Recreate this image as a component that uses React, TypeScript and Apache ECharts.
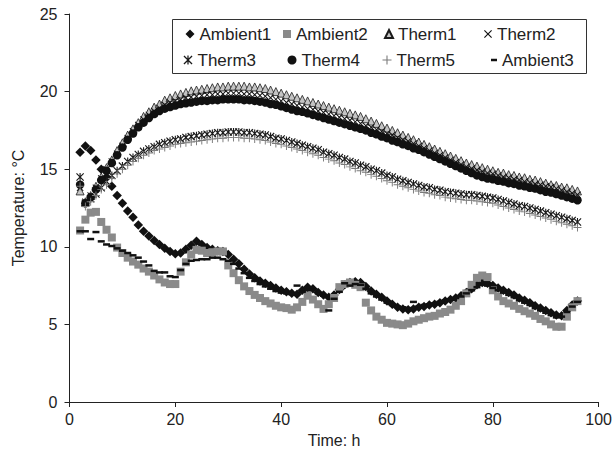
import React, { useEffect, useRef } from "react";
import * as echarts from "echarts";

const hours = [
  2, 3, 4, 5, 6, 7, 8, 9, 10, 11,
  12, 13, 14, 15, 16, 17, 18, 19, 20, 21,
  22, 23, 24, 25, 26, 27, 28, 29, 30, 31,
  32, 33, 34, 35, 36, 37, 38, 39, 40, 41,
  42, 43, 44, 45, 46, 47, 48, 49, 50, 51,
  52, 53, 54, 55, 56, 57, 58, 59, 60, 61,
  62, 63, 64, 65, 66, 67, 68, 69, 70, 71,
  72, 73, 74, 75, 76, 77, 78, 79, 80, 81,
  82, 83, 84, 85, 86, 87, 88, 89, 90, 91,
  92, 93, 94, 95, 96,
];

const ambient1 = [
  16.1, 16.5, 16.2, 15.6, 15.0, 14.5, 13.9, 13.3, 12.8, 12.3,
  11.9, 11.4, 11.0, 10.7, 10.4, 10.15, 9.9, 9.7, 9.55, 9.6,
  9.85, 10.1, 10.35, 10.15, 9.95, 9.85, 9.75, 9.7, 9.5, 9.2,
  8.9, 8.55, 8.25, 8.0, 7.8, 7.65, 7.5, 7.35, 7.2, 7.1,
  7.0, 6.95, 7.2, 7.4, 7.3, 7.05, 6.9, 6.75, 6.9, 7.25,
  7.55, 7.7, 7.75, 7.7, 7.45, 7.15, 6.95, 6.75, 6.5, 6.3,
  6.1, 6.0, 5.95, 6.0, 6.1, 6.15, 6.25, 6.3, 6.4, 6.5,
  6.6, 6.7, 6.85, 7.05, 7.3, 7.55, 7.7, 7.65, 7.5, 7.35,
  7.2, 7.05, 6.9, 6.7, 6.55, 6.4, 6.2, 6.05, 5.9, 5.75,
  5.6, 5.55, 5.9, 6.25, 6.5,
];

const ambient2 = [
  11.05, 11.75, 12.2, 12.25, 11.6, 11.1, 10.6, 9.95, 9.6, 9.3,
  9.05, 8.85, 8.6, 8.4, 8.15, 7.9, 7.7, 7.6, 7.6, 8.4,
  9.0, 9.5, 9.8, 9.75, 9.6, 9.65, 9.7, 9.7, 8.8, 8.3,
  7.85, 7.45, 7.15, 6.9, 6.7, 6.5, 6.35, 6.2, 6.1, 6.05,
  5.95, 6.1, 6.45, 6.85, 6.6, 6.3, 6.0, 6.3, 6.7, 7.4,
  7.6, 7.7, 7.55, 7.4, 6.4, 5.9, 5.5, 5.3, 5.1, 5.05,
  5.0, 4.95, 5.05, 5.2, 5.3, 5.4, 5.5, 5.55, 5.7, 5.8,
  5.95, 6.2, 6.5, 7.0, 7.55, 8.0, 8.15, 8.05, 7.2, 6.8,
  6.5, 6.35, 6.2, 6.0, 5.85, 5.7, 5.55, 5.35, 5.2, 5.0,
  4.85, 4.85, 5.5, 6.1, 6.5,
];

const therm1 = [
  13.6, 12.9, 13.3, 13.9, 14.5, 15.1, 15.6, 16.2, 16.7, 17.2,
  17.6, 18.0, 18.4, 18.7, 19.0, 19.2, 19.45, 19.6, 19.75, 19.85,
  19.95, 20.05, 20.1, 20.15, 20.2, 20.25, 20.3, 20.3, 20.35, 20.35,
  20.35, 20.35, 20.3, 20.3, 20.25, 20.2, 20.1, 20.0, 19.9, 19.8,
  19.7, 19.6, 19.5, 19.4, 19.3, 19.2, 19.1, 19.0, 18.9, 18.8,
  18.7, 18.6, 18.5, 18.4, 18.25, 18.1, 17.95, 17.8, 17.65, 17.5,
  17.35, 17.2, 17.05, 16.9, 16.75, 16.6, 16.45, 16.3, 16.15, 16.0,
  15.85, 15.7, 15.55, 15.4, 15.3, 15.2, 15.1, 15.0, 14.9, 14.8,
  14.75, 14.65, 14.6, 14.5, 14.45, 14.35, 14.3, 14.2, 14.1, 14.0,
  13.95, 13.85, 13.8, 13.7, 13.6,
];

const therm2 = [
  13.8, 12.9, 13.3, 13.8, 14.4, 15.0, 15.5, 16.0, 16.5, 17.0,
  17.45, 17.85, 18.2, 18.5, 18.75, 18.95, 19.15, 19.3, 19.4, 19.5,
  19.6, 19.65, 19.7, 19.75, 19.8, 19.8, 19.85, 19.85, 19.9, 19.9,
  19.9, 19.85, 19.85, 19.8, 19.75, 19.7, 19.6, 19.5, 19.4, 19.3,
  19.2, 19.1, 19.0, 18.9, 18.85, 18.75, 18.65, 18.55, 18.45, 18.35,
  18.25, 18.15, 18.05, 17.95, 17.8, 17.7, 17.55, 17.45, 17.3, 17.2,
  17.05, 16.9, 16.8, 16.65, 16.5, 16.35, 16.2, 16.05, 15.9, 15.75,
  15.6, 15.45, 15.3, 15.15, 15.05, 14.95, 14.85, 14.75, 14.7, 14.6,
  14.5, 14.45, 14.35, 14.3, 14.2, 14.15, 14.05, 14.0, 13.9, 13.85,
  13.75, 13.65, 13.55, 13.45, 13.35,
];

const therm3 = [
  14.5, 12.8, 13.1, 13.4, 13.8, 14.2, 14.6, 14.9, 15.2, 15.5,
  15.75, 15.95, 16.15, 16.3, 16.45, 16.6, 16.7, 16.8, 16.9, 16.95,
  17.05, 17.1, 17.15, 17.2, 17.25, 17.3, 17.35, 17.35, 17.4, 17.4,
  17.4, 17.35, 17.35, 17.3, 17.25, 17.2, 17.1, 17.0, 16.95, 16.85,
  16.75, 16.65, 16.55, 16.45, 16.35, 16.25, 16.1, 16.0, 15.9, 15.75,
  15.65, 15.5, 15.4, 15.25, 15.15, 15.0, 14.9, 14.75, 14.6, 14.5,
  14.35, 14.25, 14.15, 14.05, 13.95, 13.85, 13.8, 13.7, 13.65, 13.55,
  13.5, 13.45, 13.4, 13.35, 13.35, 13.3, 13.25, 13.2, 13.15, 13.05,
  12.95, 12.85, 12.75, 12.65, 12.6, 12.5, 12.4, 12.3, 12.2, 12.1,
  12.0, 11.9, 11.8, 11.7, 11.6,
];

const therm4 = [
  14.0, 12.8, 13.2, 13.7, 14.3, 14.9, 15.4, 15.9, 16.4, 16.9,
  17.3, 17.7, 18.0, 18.3, 18.55, 18.75, 18.9, 19.0, 19.1, 19.2,
  19.25, 19.3, 19.35, 19.4, 19.4, 19.45, 19.45, 19.5, 19.5, 19.5,
  19.5, 19.45, 19.45, 19.4, 19.35, 19.3, 19.2, 19.15, 19.05, 18.95,
  18.85, 18.75, 18.7, 18.6, 18.5, 18.4, 18.3, 18.2, 18.1, 18.0,
  17.9, 17.8, 17.7, 17.6, 17.5, 17.35, 17.25, 17.1, 17.0, 16.85,
  16.75, 16.6, 16.5, 16.35, 16.25, 16.1, 15.95, 15.8, 15.65, 15.5,
  15.35, 15.2, 15.05, 14.9, 14.75, 14.6, 14.5, 14.4, 14.35, 14.25,
  14.2, 14.1, 14.05, 13.95, 13.9, 13.8, 13.75, 13.65, 13.55, 13.5,
  13.4, 13.3, 13.2, 13.1, 13.0,
];

const therm5 = [
  13.9, 12.6, 12.9, 13.3, 13.7, 14.0, 14.4, 14.7, 15.0, 15.25,
  15.5, 15.7, 15.9, 16.05, 16.2, 16.3, 16.4, 16.5, 16.6, 16.65,
  16.7, 16.75, 16.8, 16.85, 16.9, 16.95, 17.0, 17.0, 17.05, 17.05,
  17.05, 17.0, 17.0, 16.95, 16.9, 16.85, 16.75, 16.65, 16.6, 16.5,
  16.4, 16.3, 16.2, 16.1, 16.0, 15.9, 15.75, 15.65, 15.55, 15.4,
  15.3, 15.15, 15.05, 14.9, 14.8, 14.65, 14.55, 14.4, 14.25, 14.15,
  14.0, 13.9, 13.8, 13.7, 13.6, 13.5, 13.45, 13.35, 13.3, 13.2,
  13.15, 13.1, 13.05, 13.0, 13.0, 12.95, 12.9, 12.85, 12.8, 12.7,
  12.6, 12.5, 12.4, 12.3, 12.25, 12.15, 12.05, 11.95, 11.85, 11.75,
  11.65, 11.55, 11.45, 11.35, 11.25,
];

const ambient3 = [
  11.0, 11.0, 10.5, 10.95, 10.35, 10.15, 10.05, 9.9, 9.75, 9.6,
  9.45, 9.3, 9.05, 8.8, 8.45, 8.35, 8.35, 8.1, 8.05, 8.5,
  8.9, 9.1, 9.15, 9.2, 9.2, 9.3, 9.3, 9.2, 9.1, 8.9,
  8.6, 8.3, 8.0, 7.8, 7.6, 7.45, 7.3, 7.15, 7.05, 7.0,
  6.95, 7.5, 7.1, 7.2, 7.25, 7.0, 6.85, 5.9, 6.65, 7.1,
  7.65, 7.5, 7.6, 7.55, 7.3, 7.0, 6.8, 6.6, 6.4, 6.25,
  6.15, 6.1, 6.05, 6.45, 6.15, 6.25, 6.3, 6.35, 6.45, 6.55,
  6.6, 6.7, 6.8, 7.0, 7.2, 7.4, 7.55, 7.5, 7.35, 7.2,
  7.05, 6.9, 6.75, 6.55, 6.4, 6.25, 6.05, 5.9, 5.75, 5.6,
  5.45, 5.5, 5.8, 6.15, 6.45,
];

const xTicks = { min: 0, max: 100, interval: 20 };
const yTicks = { min: 0, max: 25, interval: 5 };

const X_SYM = "path://M0,1L1,0L5,4L9,0L10,1L6,5L10,9L9,10L5,6L1,10L0,9L4,5Z";
const STAR_SYM =
  "path://M0,1L1,0L5,4L9,0L10,1L6,5L10,9L9,10L5,6L1,10L0,9L4,5Z M4.3,0L5.7,0L5.7,10L4.3,10Z";
const PLUS_SYM =
  "path://M4.4,0L5.6,0L5.6,4.4L10,4.4L10,5.6L5.6,5.6L5.6,10L4.4,10L4.4,5.6L0,5.6L0,4.4L4.4,4.4Z";

const FONT = "'Liberation Sans', Arial, sans-serif";
const INK = "#222";

export default function App() {
  const ref = useRef<HTMLDivElement>(null);

  useEffect(() => {
    if (!ref.current) return;
    const chart = echarts.init(ref.current, null, { renderer: "svg" });
    const pts = (arr: number[]) => hours.map((h, i) => [h, arr[i]]);

    const defs = [
      { name: "Ambient1", data: ambient1, symbol: "diamond", size: 9.5, color: "#111", lw: 9, lh: 9, left: 185.5, top: 24 },
      { name: "Ambient2", data: ambient2, symbol: "rect", size: 8, color: "#8a8a8a", lw: 8, lh: 8, left: 283, top: 24 },
      { name: "Therm1", data: therm1, symbol: "triangle", size: 8, color: "#c4c4c4", border: "#1a1a1a", lw: 8, lh: 8, left: 384, top: 24 },
      { name: "Therm2", data: therm2, symbol: X_SYM, size: 7, color: "#111", lw: 8, lh: 8, left: 484, top: 24 },
      { name: "Therm3", data: therm3, symbol: STAR_SYM, size: 8, color: "#1a1a1a", lw: 9, lh: 9, left: 183.5, top: 50 },
      { name: "Therm4", data: therm4, symbol: "circle", size: 8.5, color: "#111", lw: 9, lh: 9, left: 287.5, top: 50 },
      { name: "Therm5", data: therm5, symbol: PLUS_SYM, size: 8, color: "#7a7a7a", lw: 9, lh: 9, left: 382.5, top: 50 },
      { name: "Ambient3", data: ambient3, symbol: "rect", size: [7, 2.5], color: "#111", lw: 6, lh: 2.5, left: 491, top: 50 },
    ];

    const series = defs.map((d) => ({
      name: d.name,
      type: "scatter",
      data: pts(d.data),
      symbol: d.symbol,
      symbolSize: d.size,
      itemStyle: d.border
        ? { color: d.color, borderColor: d.border, borderWidth: 0.8, opacity: 1 }
        : { color: d.color, opacity: 1 },
      emphasis: { disabled: true },
      silent: true,
    }));

    const legends = defs.map((d) => ({
      data: [d.name],
      left: d.left,
      top: d.top,
      icon: d.symbol,
      itemWidth: d.lw,
      itemHeight: d.lh,
      itemGap: 0,
      padding: 0,
      selectedMode: false,
      textStyle: { fontSize: 17, color: INK, fontFamily: FONT, lineHeight: 20, padding: [0, 0, 0, 0] },
    }));

    chart.setOption({
      animation: false,
      textStyle: { fontFamily: FONT },
      grid: { left: 69.5, right: 16, top: 14, bottom: 57 },
      xAxis: {
        type: "value",
        ...xTicks,
        name: "Time: h",
        nameLocation: "middle",
        nameGap: 30,
        nameTextStyle: { fontSize: 16, color: INK, fontFamily: FONT },
        axisLine: { show: true, lineStyle: { color: INK, width: 1 } },
        axisTick: { show: true, length: 5, lineStyle: { color: INK, width: 1 } },
        axisLabel: { fontSize: 16, color: INK, margin: 9, fontFamily: FONT },
        splitLine: { show: false },
      },
      yAxis: {
        type: "value",
        ...yTicks,
        name: "Temperature: °C",
        nameLocation: "middle",
        nameGap: 43,
        nameTextStyle: { fontSize: 16, color: INK, fontFamily: FONT },
        axisLine: { show: true, lineStyle: { color: INK, width: 1 } },
        axisTick: { show: true, length: 5, lineStyle: { color: INK, width: 1 } },
        axisLabel: { fontSize: 16, color: INK, margin: 12, fontFamily: FONT },
        splitLine: { show: false },
      },
      legend: legends,
      graphic: [
        {
          type: "rect",
          shape: { x: 172.5, y: 19.5, width: 414, height: 54 },
          style: { fill: "#fff", stroke: "#333", lineWidth: 1 },
          z: 1,
          zlevel: 0,
        },
      ],
      series,
    });

    return () => chart.dispose();
  }, []);

  return (
    <div
      ref={ref}
      style={{ position: "fixed", left: 0, top: 0, width: 615, height: 459, background: "#fff" }}
    />
  );
}
